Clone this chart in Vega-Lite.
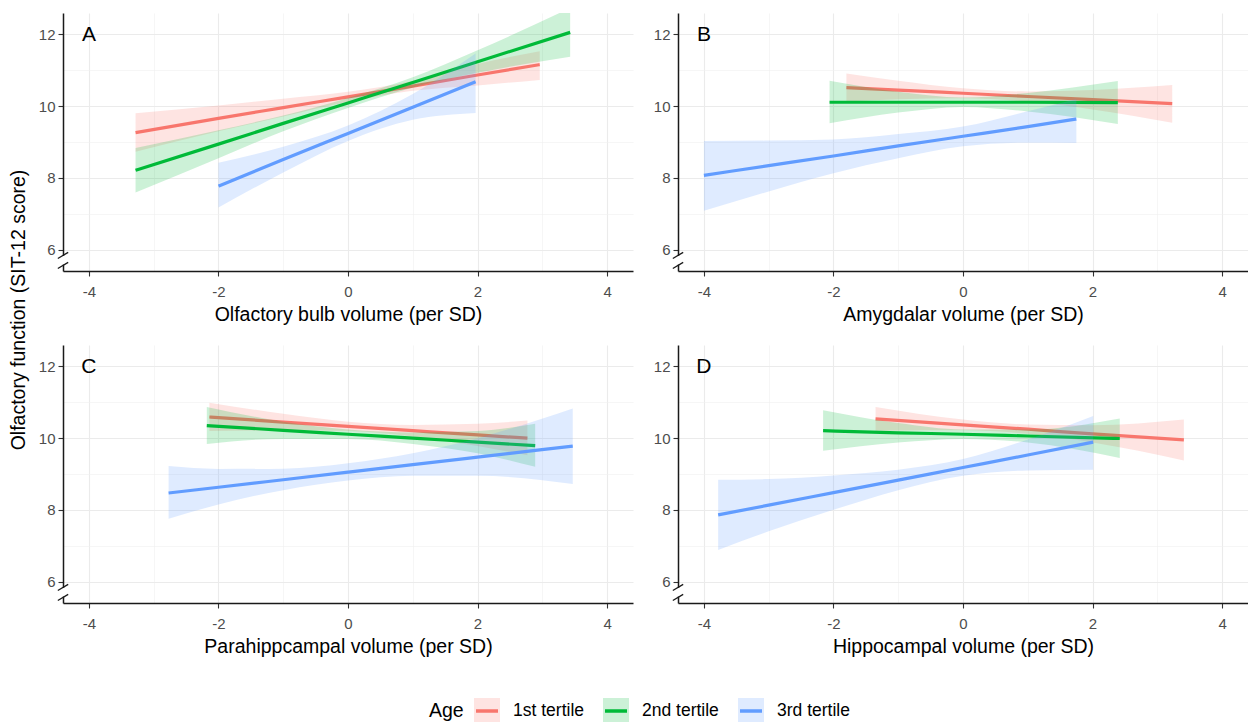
{
"$schema": "https://vega.github.io/schema/vega-lite/v6.json",
"background": "white",
"padding": {"left": 8, "top": 13, "right": 0, "bottom": 0},
"title": {"text": "Olfactory function (SIT-12 score)", "orient": "left", "anchor": "middle", "fontSize": 19.5, "fontWeight": "normal", "font": "Liberation Sans", "color": "#000", "offset": 9, "dx": 62},
"data": {"values": [
{"panel":"A","Age":"1st tertile","x":-3.28,"fit":9.26,"lo":8.73,"hi":9.80},
{"panel":"A","Age":"1st tertile","x":-2,"fit":9.66,"lo":9.30,"hi":10.02},
{"panel":"A","Age":"1st tertile","x":-1,"fit":9.96,"lo":9.71,"hi":10.21},
{"panel":"A","Age":"1st tertile","x":0,"fit":10.26,"lo":10.12,"hi":10.40},
{"panel":"A","Age":"1st tertile","x":1,"fit":10.56,"lo":10.43,"hi":10.70},
{"panel":"A","Age":"1st tertile","x":2,"fit":10.87,"lo":10.58,"hi":11.18},
{"panel":"A","Age":"1st tertile","x":2.96,"fit":11.16,"lo":10.73,"hi":11.53},
{"panel":"A","Age":"2nd tertile","x":-3.28,"fit":8.21,"lo":7.59,"hi":8.83},
{"panel":"A","Age":"2nd tertile","x":-2,"fit":8.94,"lo":8.55,"hi":9.33},
{"panel":"A","Age":"2nd tertile","x":-1,"fit":9.52,"lo":9.30,"hi":9.74},
{"panel":"A","Age":"2nd tertile","x":0,"fit":10.09,"lo":9.95,"hi":10.23},
{"panel":"A","Age":"2nd tertile","x":1,"fit":10.66,"lo":10.52,"hi":10.81},
{"panel":"A","Age":"2nd tertile","x":2,"fit":11.24,"lo":10.93,"hi":11.56},
{"panel":"A","Age":"2nd tertile","x":3.43,"fit":12.06,"lo":11.38,"hi":12.74},
{"panel":"A","Age":"3rd tertile","x":-2,"fit":7.77,"lo":7.17,"hi":8.42},
{"panel":"A","Age":"3rd tertile","x":-1,"fit":8.51,"lo":8.15,"hi":8.87},
{"panel":"A","Age":"3rd tertile","x":0,"fit":9.24,"lo":9.03,"hi":9.46},
{"panel":"A","Age":"3rd tertile","x":1,"fit":9.97,"lo":9.62,"hi":10.34},
{"panel":"A","Age":"3rd tertile","x":1.97,"fit":10.68,"lo":9.81,"hi":11.47},
{"panel":"B","Age":"1st tertile","x":-1.8,"fit":10.52,"lo":10.13,"hi":10.91},
{"panel":"B","Age":"1st tertile","x":-1,"fit":10.45,"lo":10.19,"hi":10.71},
{"panel":"B","Age":"1st tertile","x":0,"fit":10.36,"lo":10.22,"hi":10.50},
{"panel":"B","Age":"1st tertile","x":1,"fit":10.27,"lo":10.13,"hi":10.41},
{"panel":"B","Age":"1st tertile","x":2,"fit":10.18,"lo":9.91,"hi":10.45},
{"panel":"B","Age":"1st tertile","x":3.23,"fit":10.07,"lo":9.54,"hi":10.59},
{"panel":"B","Age":"2nd tertile","x":-2.06,"fit":10.11,"lo":9.52,"hi":10.71},
{"panel":"B","Age":"2nd tertile","x":-1,"fit":10.11,"lo":9.82,"hi":10.40},
{"panel":"B","Age":"2nd tertile","x":0,"fit":10.11,"lo":9.98,"hi":10.24},
{"panel":"B","Age":"2nd tertile","x":1,"fit":10.11,"lo":9.85,"hi":10.37},
{"panel":"B","Age":"2nd tertile","x":2.39,"fit":10.10,"lo":9.50,"hi":10.70},
{"panel":"B","Age":"3rd tertile","x":-4,"fit":8.07,"lo":7.08,"hi":9.03},
{"panel":"B","Age":"3rd tertile","x":-3,"fit":8.34,"lo":7.62,"hi":9.04},
{"panel":"B","Age":"3rd tertile","x":-2,"fit":8.61,"lo":8.13,"hi":9.07},
{"panel":"B","Age":"3rd tertile","x":-1,"fit":8.89,"lo":8.55,"hi":9.22},
{"panel":"B","Age":"3rd tertile","x":0,"fit":9.16,"lo":8.88,"hi":9.43},
{"panel":"B","Age":"3rd tertile","x":1,"fit":9.43,"lo":8.98,"hi":9.86},
{"panel":"B","Age":"3rd tertile","x":1.75,"fit":9.64,"lo":8.97,"hi":10.20},
{"panel":"C","Age":"1st tertile","x":-2.14,"fit":10.59,"lo":10.20,"hi":10.99},
{"panel":"C","Age":"1st tertile","x":-1,"fit":10.45,"lo":10.22,"hi":10.68},
{"panel":"C","Age":"1st tertile","x":0,"fit":10.33,"lo":10.20,"hi":10.46},
{"panel":"C","Age":"1st tertile","x":1,"fit":10.21,"lo":10.05,"hi":10.37},
{"panel":"C","Age":"1st tertile","x":2,"fit":10.09,"lo":9.78,"hi":10.40},
{"panel":"C","Age":"1st tertile","x":2.77,"fit":10.00,"lo":9.52,"hi":10.49},
{"panel":"C","Age":"2nd tertile","x":-2.18,"fit":10.35,"lo":9.84,"hi":10.87},
{"panel":"C","Age":"2nd tertile","x":-1,"fit":10.22,"lo":9.98,"hi":10.46},
{"panel":"C","Age":"2nd tertile","x":0,"fit":10.11,"lo":9.98,"hi":10.24},
{"panel":"C","Age":"2nd tertile","x":1,"fit":10.00,"lo":9.84,"hi":10.16},
{"panel":"C","Age":"2nd tertile","x":2,"fit":9.89,"lo":9.58,"hi":10.20},
{"panel":"C","Age":"2nd tertile","x":2.89,"fit":9.79,"lo":9.20,"hi":10.40},
{"panel":"C","Age":"3rd tertile","x":-2.77,"fit":8.47,"lo":7.75,"hi":9.22},
{"panel":"C","Age":"3rd tertile","x":-2,"fit":8.63,"lo":8.15,"hi":9.14},
{"panel":"C","Age":"3rd tertile","x":-1,"fit":8.84,"lo":8.55,"hi":9.15},
{"panel":"C","Age":"3rd tertile","x":0,"fit":9.05,"lo":8.82,"hi":9.30},
{"panel":"C","Age":"3rd tertile","x":1,"fit":9.26,"lo":8.95,"hi":9.58},
{"panel":"C","Age":"3rd tertile","x":2,"fit":9.47,"lo":8.95,"hi":10.00},
{"panel":"C","Age":"3rd tertile","x":3.47,"fit":9.78,"lo":8.72,"hi":10.83},
{"panel":"D","Age":"1st tertile","x":-1.35,"fit":10.54,"lo":10.21,"hi":10.87},
{"panel":"D","Age":"1st tertile","x":0,"fit":10.37,"lo":10.22,"hi":10.52},
{"panel":"D","Age":"1st tertile","x":1,"fit":10.25,"lo":10.12,"hi":10.38},
{"panel":"D","Age":"1st tertile","x":2,"fit":10.12,"lo":9.88,"hi":10.36},
{"panel":"D","Age":"1st tertile","x":3.41,"fit":9.95,"lo":9.38,"hi":10.52},
{"panel":"D","Age":"2nd tertile","x":-2.16,"fit":10.21,"lo":9.65,"hi":10.78},
{"panel":"D","Age":"2nd tertile","x":-1,"fit":10.15,"lo":9.88,"hi":10.42},
{"panel":"D","Age":"2nd tertile","x":0,"fit":10.11,"lo":9.98,"hi":10.24},
{"panel":"D","Age":"2nd tertile","x":1,"fit":10.06,"lo":9.88,"hi":10.24},
{"panel":"D","Age":"2nd tertile","x":2.42,"fit":9.99,"lo":9.45,"hi":10.55},
{"panel":"D","Age":"3rd tertile","x":-3.78,"fit":7.86,"lo":6.88,"hi":8.84},
{"panel":"D","Age":"3rd tertile","x":-3,"fit":8.13,"lo":7.40,"hi":8.86},
{"panel":"D","Age":"3rd tertile","x":-2,"fit":8.48,"lo":8.00,"hi":8.96},
{"panel":"D","Age":"3rd tertile","x":-1,"fit":8.83,"lo":8.55,"hi":9.12},
{"panel":"D","Age":"3rd tertile","x":0,"fit":9.18,"lo":8.95,"hi":9.42},
{"panel":"D","Age":"3rd tertile","x":1,"fit":9.53,"lo":9.10,"hi":9.96},
{"panel":"D","Age":"3rd tertile","x":2.01,"fit":9.89,"lo":9.12,"hi":10.62}
]},
"columns": 2,
"spacing": {"row": 21, "column": 20},
"resolve": {"scale": {"color": "shared"}, "legend": {"color": "shared"}},
"concat": [
{"width": 570, "height": 258,
 "encoding": {
  "x": {"field": "x", "type": "quantitative", "scale": {"domain": [-4.4, 4.4], "nice": false, "zero": false}, "axis": {"title": "Olfactory bulb volume (per SD)", "values": [-4,-3,-2,-1,0,1,2,3,4], "grid": true, "labelExpr": "datum.value % 2 !== 0 ? '' : datum.value < 0 ? '-' + abs(datum.value) : '' + datum.value", "gridWidth": {"condition": {"test": "datum.value % 2 !== 0", "value": 0.6}, "value": 1.1}, "gridColor": {"condition": {"test": "datum.value % 2 !== 0", "value": "#F0F0F0"}, "value": "#EBEBEB"}, "tickOpacity": {"condition": {"test": "datum.value % 2 !== 0", "value": 0}, "value": 1}}}
 },
 "layer": [
  {"transform": [{"filter": "datum.panel === 'A' && datum.Age === '1st tertile'"}], "mark": {"type": "area", "fillOpacity": 0.2, "clip": true, "interpolate": "monotone"},
   "encoding": {"y": {"field": "lo", "type": "quantitative", "scale": {"domain": [5.4, 12.6], "nice": false, "zero": false}, "axis": {"title": null, "values": [6,7,8,9,10,11,12], "grid": true, "labelExpr": "datum.value % 2 !== 0 ? '' : '' + datum.value", "gridWidth": {"condition": {"test": "datum.value % 2 !== 0", "value": 0.6}, "value": 1.1}, "gridColor": {"condition": {"test": "datum.value % 2 !== 0", "value": "#F0F0F0"}, "value": "#EBEBEB"}, "tickOpacity": {"condition": {"test": "datum.value % 2 !== 0", "value": 0}, "value": 1}}}, "y2": {"field": "hi"},
    "color": {"field": "Age", "type": "nominal", "scale": {"domain": ["1st tertile","2nd tertile","3rd tertile"], "range": ["#F8766D","#00BA38","#619CFF"]},
     "legend": {"title": "Age", "orient": "none", "legendX": 366, "legendY": 683, "direction": "horizontal", "titleOrient": "left", "titleAnchor": "middle", "titleBaseline": "middle", "titleFontSize": 19.5, "titleFontWeight": "normal", "titleColor": "#000", "titlePadding": 8, "labelFontSize": 17.5, "labelColor": "#000", "labelOffset": 11, "columnPadding": 12, "symbolType": "M-0.846,0H1V-1H-1V1H1V0Z", "symbolSize": 676, "symbolStrokeWidth": 3.5, "symbolDash": [22, 2000],
      "encode": {"title": {"update": {"dy": {"value": -3}}}, "symbols": {"update": {"fill": {"scale": "color", "field": "value"}, "stroke": {"scale": "color", "field": "value"}, "fillOpacity": {"value": 0.2}, "strokeOpacity": {"value": 1}, "opacity": {"value": 1}}}}}}}},
  {"transform": [{"filter": "datum.panel === 'A' && datum.Age === '1st tertile'"}], "mark": {"type": "line", "strokeWidth": 3.2, "clip": true, "interpolate": "monotone"},
   "encoding": {"y": {"field": "fit", "type": "quantitative"}, "color": {"field": "Age", "type": "nominal"}}},
  {"transform": [{"filter": "datum.panel === 'A' && datum.Age === '2nd tertile'"}], "mark": {"type": "area", "fillOpacity": 0.2, "clip": true, "interpolate": "monotone"},
   "encoding": {"y": {"field": "lo", "type": "quantitative"}, "y2": {"field": "hi"}, "color": {"field": "Age", "type": "nominal"}}},
  {"transform": [{"filter": "datum.panel === 'A' && datum.Age === '2nd tertile'"}], "mark": {"type": "line", "strokeWidth": 3.2, "clip": true, "interpolate": "monotone"},
   "encoding": {"y": {"field": "fit", "type": "quantitative"}, "color": {"field": "Age", "type": "nominal"}}},
  {"transform": [{"filter": "datum.panel === 'A' && datum.Age === '3rd tertile'"}], "mark": {"type": "area", "fillOpacity": 0.2, "clip": true, "interpolate": "monotone"},
   "encoding": {"y": {"field": "lo", "type": "quantitative"}, "y2": {"field": "hi"}, "color": {"field": "Age", "type": "nominal"}}},
  {"transform": [{"filter": "datum.panel === 'A' && datum.Age === '3rd tertile'"}], "mark": {"type": "line", "strokeWidth": 3.2, "clip": true, "interpolate": "monotone"},
   "encoding": {"y": {"field": "fit", "type": "quantitative"}, "color": {"field": "Age", "type": "nominal"}}},
  {"transform": [{"filter": "datum.panel === 'A' && datum.Age === '1st tertile' && datum.x === 0"}], "mark": {"type": "rule", "color": "white", "strokeWidth": 4}, "encoding": {"x": {"datum": -4.4, "type": "quantitative"}, "y": {"datum": 5.58, "type": "quantitative"}, "y2": {"datum": 5.82}}},
  {"transform": [{"filter": "datum.panel === 'A' && datum.Age === '1st tertile' && datum.x === 0"}], "mark": {"type": "rule", "color": "#1a1a1a", "strokeWidth": 1.3}, "encoding": {"x": {"datum": -4.48, "type": "quantitative"}, "x2": {"datum": -4.32}, "y": {"datum": 5.75, "type": "quantitative"}, "y2": {"datum": 5.92}}},
  {"transform": [{"filter": "datum.panel === 'A' && datum.Age === '1st tertile' && datum.x === 0"}], "mark": {"type": "rule", "color": "#1a1a1a", "strokeWidth": 1.3}, "encoding": {"x": {"datum": -4.48, "type": "quantitative"}, "x2": {"datum": -4.32}, "y": {"datum": 5.47, "type": "quantitative"}, "y2": {"datum": 5.64}}},
  {"transform": [{"filter": "datum.panel === 'A' && datum.Age === '1st tertile' && datum.x === 0"}], "mark": {"type": "text", "fontSize": 21, "font": "Liberation Sans", "align": "center", "baseline": "middle", "color": "#000"}, "encoding": {"x": {"datum": -4, "type": "quantitative"}, "y": {"datum": 12, "type": "quantitative"}, "text": {"field": "panel"}}}
 ]},
{"width": 570, "height": 258,
 "encoding": {
  "x": {"field": "x", "type": "quantitative", "scale": {"domain": [-4.4, 4.4], "nice": false, "zero": false}, "axis": {"title": "Amygdalar volume (per SD)", "values": [-4,-3,-2,-1,0,1,2,3,4], "grid": true, "labelExpr": "datum.value % 2 !== 0 ? '' : datum.value < 0 ? '-' + abs(datum.value) : '' + datum.value", "gridWidth": {"condition": {"test": "datum.value % 2 !== 0", "value": 0.6}, "value": 1.1}, "gridColor": {"condition": {"test": "datum.value % 2 !== 0", "value": "#F0F0F0"}, "value": "#EBEBEB"}, "tickOpacity": {"condition": {"test": "datum.value % 2 !== 0", "value": 0}, "value": 1}}}
 },
 "layer": [
  {"transform": [{"filter": "datum.panel === 'B' && datum.Age === '1st tertile'"}], "mark": {"type": "area", "fillOpacity": 0.2, "clip": true, "interpolate": "monotone"},
   "encoding": {"y": {"field": "lo", "type": "quantitative", "scale": {"domain": [5.4, 12.6], "nice": false, "zero": false}, "axis": {"title": null, "values": [6,7,8,9,10,11,12], "grid": true, "labelExpr": "datum.value % 2 !== 0 ? '' : '' + datum.value", "gridWidth": {"condition": {"test": "datum.value % 2 !== 0", "value": 0.6}, "value": 1.1}, "gridColor": {"condition": {"test": "datum.value % 2 !== 0", "value": "#F0F0F0"}, "value": "#EBEBEB"}, "tickOpacity": {"condition": {"test": "datum.value % 2 !== 0", "value": 0}, "value": 1}}}, "y2": {"field": "hi"}, "color": {"field": "Age", "type": "nominal"}}},
  {"transform": [{"filter": "datum.panel === 'B' && datum.Age === '1st tertile'"}], "mark": {"type": "line", "strokeWidth": 3.2, "clip": true, "interpolate": "monotone"},
   "encoding": {"y": {"field": "fit", "type": "quantitative"}, "color": {"field": "Age", "type": "nominal"}}},
  {"transform": [{"filter": "datum.panel === 'B' && datum.Age === '2nd tertile'"}], "mark": {"type": "area", "fillOpacity": 0.2, "clip": true, "interpolate": "monotone"},
   "encoding": {"y": {"field": "lo", "type": "quantitative"}, "y2": {"field": "hi"}, "color": {"field": "Age", "type": "nominal"}}},
  {"transform": [{"filter": "datum.panel === 'B' && datum.Age === '2nd tertile'"}], "mark": {"type": "line", "strokeWidth": 3.2, "clip": true, "interpolate": "monotone"},
   "encoding": {"y": {"field": "fit", "type": "quantitative"}, "color": {"field": "Age", "type": "nominal"}}},
  {"transform": [{"filter": "datum.panel === 'B' && datum.Age === '3rd tertile'"}], "mark": {"type": "area", "fillOpacity": 0.2, "clip": true, "interpolate": "monotone"},
   "encoding": {"y": {"field": "lo", "type": "quantitative"}, "y2": {"field": "hi"}, "color": {"field": "Age", "type": "nominal"}}},
  {"transform": [{"filter": "datum.panel === 'B' && datum.Age === '3rd tertile'"}], "mark": {"type": "line", "strokeWidth": 3.2, "clip": true, "interpolate": "monotone"},
   "encoding": {"y": {"field": "fit", "type": "quantitative"}, "color": {"field": "Age", "type": "nominal"}}},
  {"transform": [{"filter": "datum.panel === 'B' && datum.Age === '1st tertile' && datum.x === 0"}], "mark": {"type": "rule", "color": "white", "strokeWidth": 4}, "encoding": {"x": {"datum": -4.4, "type": "quantitative"}, "y": {"datum": 5.58, "type": "quantitative"}, "y2": {"datum": 5.82}}},
  {"transform": [{"filter": "datum.panel === 'B' && datum.Age === '1st tertile' && datum.x === 0"}], "mark": {"type": "rule", "color": "#1a1a1a", "strokeWidth": 1.3}, "encoding": {"x": {"datum": -4.48, "type": "quantitative"}, "x2": {"datum": -4.32}, "y": {"datum": 5.75, "type": "quantitative"}, "y2": {"datum": 5.92}}},
  {"transform": [{"filter": "datum.panel === 'B' && datum.Age === '1st tertile' && datum.x === 0"}], "mark": {"type": "rule", "color": "#1a1a1a", "strokeWidth": 1.3}, "encoding": {"x": {"datum": -4.48, "type": "quantitative"}, "x2": {"datum": -4.32}, "y": {"datum": 5.47, "type": "quantitative"}, "y2": {"datum": 5.64}}},
  {"transform": [{"filter": "datum.panel === 'B' && datum.Age === '1st tertile' && datum.x === 0"}], "mark": {"type": "text", "fontSize": 21, "font": "Liberation Sans", "align": "center", "baseline": "middle", "color": "#000"}, "encoding": {"x": {"datum": -4, "type": "quantitative"}, "y": {"datum": 12, "type": "quantitative"}, "text": {"field": "panel"}}}
 ]},
{"width": 570, "height": 258,
 "encoding": {
  "x": {"field": "x", "type": "quantitative", "scale": {"domain": [-4.4, 4.4], "nice": false, "zero": false}, "axis": {"title": "Parahippcampal volume (per SD)", "values": [-4,-3,-2,-1,0,1,2,3,4], "grid": true, "labelExpr": "datum.value % 2 !== 0 ? '' : datum.value < 0 ? '-' + abs(datum.value) : '' + datum.value", "gridWidth": {"condition": {"test": "datum.value % 2 !== 0", "value": 0.6}, "value": 1.1}, "gridColor": {"condition": {"test": "datum.value % 2 !== 0", "value": "#F0F0F0"}, "value": "#EBEBEB"}, "tickOpacity": {"condition": {"test": "datum.value % 2 !== 0", "value": 0}, "value": 1}}}
 },
 "layer": [
  {"transform": [{"filter": "datum.panel === 'C' && datum.Age === '1st tertile'"}], "mark": {"type": "area", "fillOpacity": 0.2, "clip": true, "interpolate": "monotone"},
   "encoding": {"y": {"field": "lo", "type": "quantitative", "scale": {"domain": [5.4, 12.6], "nice": false, "zero": false}, "axis": {"title": null, "values": [6,7,8,9,10,11,12], "grid": true, "labelExpr": "datum.value % 2 !== 0 ? '' : '' + datum.value", "gridWidth": {"condition": {"test": "datum.value % 2 !== 0", "value": 0.6}, "value": 1.1}, "gridColor": {"condition": {"test": "datum.value % 2 !== 0", "value": "#F0F0F0"}, "value": "#EBEBEB"}, "tickOpacity": {"condition": {"test": "datum.value % 2 !== 0", "value": 0}, "value": 1}}}, "y2": {"field": "hi"}, "color": {"field": "Age", "type": "nominal"}}},
  {"transform": [{"filter": "datum.panel === 'C' && datum.Age === '1st tertile'"}], "mark": {"type": "line", "strokeWidth": 3.2, "clip": true, "interpolate": "monotone"},
   "encoding": {"y": {"field": "fit", "type": "quantitative"}, "color": {"field": "Age", "type": "nominal"}}},
  {"transform": [{"filter": "datum.panel === 'C' && datum.Age === '2nd tertile'"}], "mark": {"type": "area", "fillOpacity": 0.2, "clip": true, "interpolate": "monotone"},
   "encoding": {"y": {"field": "lo", "type": "quantitative"}, "y2": {"field": "hi"}, "color": {"field": "Age", "type": "nominal"}}},
  {"transform": [{"filter": "datum.panel === 'C' && datum.Age === '2nd tertile'"}], "mark": {"type": "line", "strokeWidth": 3.2, "clip": true, "interpolate": "monotone"},
   "encoding": {"y": {"field": "fit", "type": "quantitative"}, "color": {"field": "Age", "type": "nominal"}}},
  {"transform": [{"filter": "datum.panel === 'C' && datum.Age === '3rd tertile'"}], "mark": {"type": "area", "fillOpacity": 0.2, "clip": true, "interpolate": "monotone"},
   "encoding": {"y": {"field": "lo", "type": "quantitative"}, "y2": {"field": "hi"}, "color": {"field": "Age", "type": "nominal"}}},
  {"transform": [{"filter": "datum.panel === 'C' && datum.Age === '3rd tertile'"}], "mark": {"type": "line", "strokeWidth": 3.2, "clip": true, "interpolate": "monotone"},
   "encoding": {"y": {"field": "fit", "type": "quantitative"}, "color": {"field": "Age", "type": "nominal"}}},
  {"transform": [{"filter": "datum.panel === 'C' && datum.Age === '1st tertile' && datum.x === 0"}], "mark": {"type": "rule", "color": "white", "strokeWidth": 4}, "encoding": {"x": {"datum": -4.4, "type": "quantitative"}, "y": {"datum": 5.58, "type": "quantitative"}, "y2": {"datum": 5.82}}},
  {"transform": [{"filter": "datum.panel === 'C' && datum.Age === '1st tertile' && datum.x === 0"}], "mark": {"type": "rule", "color": "#1a1a1a", "strokeWidth": 1.3}, "encoding": {"x": {"datum": -4.48, "type": "quantitative"}, "x2": {"datum": -4.32}, "y": {"datum": 5.75, "type": "quantitative"}, "y2": {"datum": 5.92}}},
  {"transform": [{"filter": "datum.panel === 'C' && datum.Age === '1st tertile' && datum.x === 0"}], "mark": {"type": "rule", "color": "#1a1a1a", "strokeWidth": 1.3}, "encoding": {"x": {"datum": -4.48, "type": "quantitative"}, "x2": {"datum": -4.32}, "y": {"datum": 5.47, "type": "quantitative"}, "y2": {"datum": 5.64}}},
  {"transform": [{"filter": "datum.panel === 'C' && datum.Age === '1st tertile' && datum.x === 0"}], "mark": {"type": "text", "fontSize": 21, "font": "Liberation Sans", "align": "center", "baseline": "middle", "color": "#000"}, "encoding": {"x": {"datum": -4, "type": "quantitative"}, "y": {"datum": 12, "type": "quantitative"}, "text": {"field": "panel"}}}
 ]},
{"width": 570, "height": 258,
 "encoding": {
  "x": {"field": "x", "type": "quantitative", "scale": {"domain": [-4.4, 4.4], "nice": false, "zero": false}, "axis": {"title": "Hippocampal volume (per SD)", "values": [-4,-3,-2,-1,0,1,2,3,4], "grid": true, "labelExpr": "datum.value % 2 !== 0 ? '' : datum.value < 0 ? '-' + abs(datum.value) : '' + datum.value", "gridWidth": {"condition": {"test": "datum.value % 2 !== 0", "value": 0.6}, "value": 1.1}, "gridColor": {"condition": {"test": "datum.value % 2 !== 0", "value": "#F0F0F0"}, "value": "#EBEBEB"}, "tickOpacity": {"condition": {"test": "datum.value % 2 !== 0", "value": 0}, "value": 1}}}
 },
 "layer": [
  {"transform": [{"filter": "datum.panel === 'D' && datum.Age === '1st tertile'"}], "mark": {"type": "area", "fillOpacity": 0.2, "clip": true, "interpolate": "monotone"},
   "encoding": {"y": {"field": "lo", "type": "quantitative", "scale": {"domain": [5.4, 12.6], "nice": false, "zero": false}, "axis": {"title": null, "values": [6,7,8,9,10,11,12], "grid": true, "labelExpr": "datum.value % 2 !== 0 ? '' : '' + datum.value", "gridWidth": {"condition": {"test": "datum.value % 2 !== 0", "value": 0.6}, "value": 1.1}, "gridColor": {"condition": {"test": "datum.value % 2 !== 0", "value": "#F0F0F0"}, "value": "#EBEBEB"}, "tickOpacity": {"condition": {"test": "datum.value % 2 !== 0", "value": 0}, "value": 1}}}, "y2": {"field": "hi"}, "color": {"field": "Age", "type": "nominal"}}},
  {"transform": [{"filter": "datum.panel === 'D' && datum.Age === '1st tertile'"}], "mark": {"type": "line", "strokeWidth": 3.2, "clip": true, "interpolate": "monotone"},
   "encoding": {"y": {"field": "fit", "type": "quantitative"}, "color": {"field": "Age", "type": "nominal"}}},
  {"transform": [{"filter": "datum.panel === 'D' && datum.Age === '2nd tertile'"}], "mark": {"type": "area", "fillOpacity": 0.2, "clip": true, "interpolate": "monotone"},
   "encoding": {"y": {"field": "lo", "type": "quantitative"}, "y2": {"field": "hi"}, "color": {"field": "Age", "type": "nominal"}}},
  {"transform": [{"filter": "datum.panel === 'D' && datum.Age === '2nd tertile'"}], "mark": {"type": "line", "strokeWidth": 3.2, "clip": true, "interpolate": "monotone"},
   "encoding": {"y": {"field": "fit", "type": "quantitative"}, "color": {"field": "Age", "type": "nominal"}}},
  {"transform": [{"filter": "datum.panel === 'D' && datum.Age === '3rd tertile'"}], "mark": {"type": "area", "fillOpacity": 0.2, "clip": true, "interpolate": "monotone"},
   "encoding": {"y": {"field": "lo", "type": "quantitative"}, "y2": {"field": "hi"}, "color": {"field": "Age", "type": "nominal"}}},
  {"transform": [{"filter": "datum.panel === 'D' && datum.Age === '3rd tertile'"}], "mark": {"type": "line", "strokeWidth": 3.2, "clip": true, "interpolate": "monotone"},
   "encoding": {"y": {"field": "fit", "type": "quantitative"}, "color": {"field": "Age", "type": "nominal"}}},
  {"transform": [{"filter": "datum.panel === 'D' && datum.Age === '1st tertile' && datum.x === 0"}], "mark": {"type": "rule", "color": "white", "strokeWidth": 4}, "encoding": {"x": {"datum": -4.4, "type": "quantitative"}, "y": {"datum": 5.58, "type": "quantitative"}, "y2": {"datum": 5.82}}},
  {"transform": [{"filter": "datum.panel === 'D' && datum.Age === '1st tertile' && datum.x === 0"}], "mark": {"type": "rule", "color": "#1a1a1a", "strokeWidth": 1.3}, "encoding": {"x": {"datum": -4.48, "type": "quantitative"}, "x2": {"datum": -4.32}, "y": {"datum": 5.75, "type": "quantitative"}, "y2": {"datum": 5.92}}},
  {"transform": [{"filter": "datum.panel === 'D' && datum.Age === '1st tertile' && datum.x === 0"}], "mark": {"type": "rule", "color": "#1a1a1a", "strokeWidth": 1.3}, "encoding": {"x": {"datum": -4.48, "type": "quantitative"}, "x2": {"datum": -4.32}, "y": {"datum": 5.47, "type": "quantitative"}, "y2": {"datum": 5.64}}},
  {"transform": [{"filter": "datum.panel === 'D' && datum.Age === '1st tertile' && datum.x === 0"}], "mark": {"type": "text", "fontSize": 21, "font": "Liberation Sans", "align": "center", "baseline": "middle", "color": "#000"}, "encoding": {"x": {"datum": -4, "type": "quantitative"}, "y": {"datum": 12, "type": "quantitative"}, "text": {"field": "panel"}}}
 ]}
],
"config": {
 "font": "Liberation Sans",
 "view": {"stroke": null},
 "axis": {"domainColor": "#1a1a1a", "domainWidth": 1.5, "tickColor": "#333333", "tickWidth": 1.1, "tickSize": 5, "labelColor": "#4D4D4D", "labelFontSize": 15, "labelFont": "Liberation Sans", "titleFont": "Liberation Sans", "titleFontSize": 19.5, "titleFontWeight": "normal", "titleColor": "#000000", "gridColor": "#EBEBEB", "gridWidth": 1.1},
 "axisX": {"labelPadding": 8, "titlePadding": 6},
 "axisY": {"labelPadding": 3},
 "legend": {"labelFont": "Liberation Sans", "titleFont": "Liberation Sans"}
}
}
